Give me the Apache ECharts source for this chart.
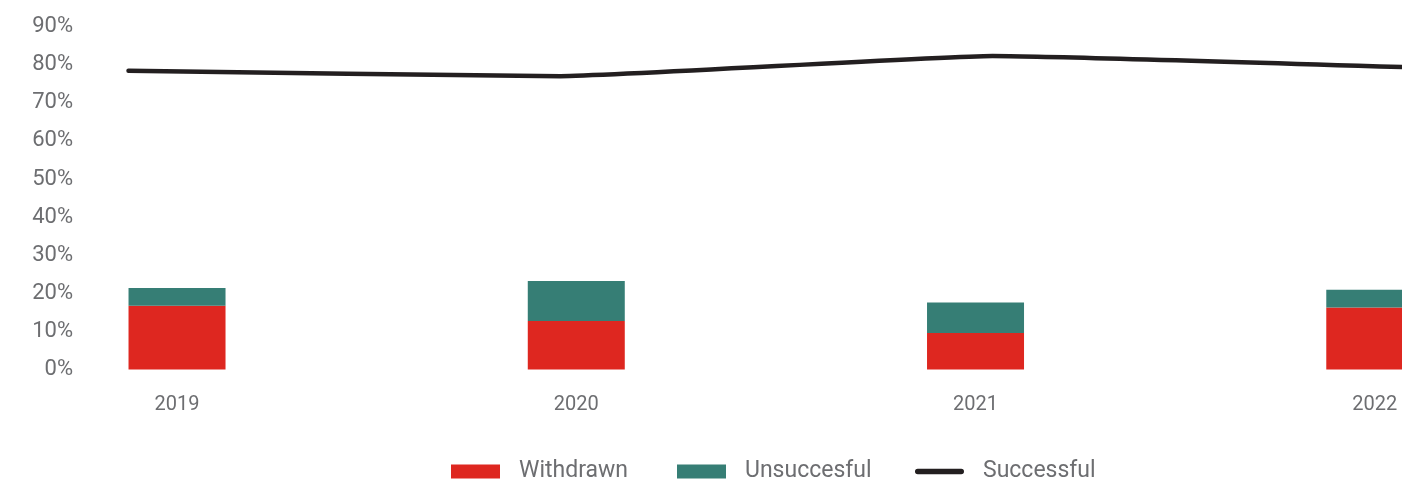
<!DOCTYPE html>
<html>
<head>
<meta charset="utf-8">
<style>
html,body{margin:0;padding:0;background:#fff;}
#chart{width:1402px;height:480px;}
</style>
<script src="https://cdn.jsdelivr.net/npm/echarts@6/dist/echarts.min.js"></script>
</head>
<body>
<div id="chart"></div>
<script>
const years = ['2019', '2020', '2021', '2022'];
const withdrawn = [16.7, 12.7, 9.6, 16.3];
const unsuccessful = [4.7, 10.5, 8.0, 4.6];
const successful = [78.4, 77.0, 82.3, 79.2];
const yTicks = [0, 10, 20, 30, 40, 50, 60, 70, 80, 90];

const RED = '#de2720';
const TEAL = '#367e75';
const DARK = '#231f20';
const GREY = '#6d6e71';
const FONT = 'Roboto';

const chart = echarts.init(document.getElementById('chart'), null, {renderer: 'canvas'});

const commonY = {
  type: 'value', min: yTicks[0], max: yTicks[yTicks.length - 1], interval: 10,
  splitLine: {show: false}, axisLine: {show: false}, axisTick: {show: false}
};

const legendBase = {
  top: 460, itemWidth: 49, itemHeight: 14, padding: 0,
  formatter: name => '{g|}' + '{t|' + name + '}',
  textStyle: {color: GREY, fontSize: 23, fontFamily: FONT,
    rich: {g: {width: 14}, t: {color: GREY, fontSize: 23, fontFamily: FONT}}},
  selectedMode: false
};

chart.setOption({
  animation: false,
  backgroundColor: '#fff',
  grid: [
    {left: -22.6, width: 1597, top: 26.6, bottom: 110.5, outerBoundsMode: 'none'},
    {left: 128.5, width: 1296, top: 26.6, bottom: 110.5, outerBoundsMode: 'none'}
  ],
  xAxis: [
    {type: 'category', gridIndex: 0, data: years, boundaryGap: true,
     axisLine: {show: false}, axisTick: {show: false},
     axisLabel: {color: GREY, fontSize: 20, fontFamily: FONT, margin: 25}},
    {type: 'category', gridIndex: 1, data: years, boundaryGap: false, show: false}
  ],
  yAxis: [
    Object.assign({gridIndex: 0, axisLabel: {show: false}}, commonY),
    Object.assign({gridIndex: 1, axisLabel: {color: GREY, fontSize: 22, fontFamily: FONT, margin: 55.5,
      formatter: v => v + '%'}}, commonY)
  ],
  legend: [
    Object.assign({left: 451, data: [{name: 'Withdrawn', icon: 'rect'}]}, legendBase),
    Object.assign({left: 677, data: [{name: 'Unsuccesful', icon: 'rect'}]}, legendBase),
    Object.assign({left: 915, data: [{name: 'Successful',
      icon: 'path://M3,0 L50,0 A3,3 0 0 1 50,6 L3,6 A3,3 0 0 1 3,0 Z',
      itemStyle: {color: DARK}}]}, legendBase)
  ],
  series: [
    {name: 'Withdrawn', type: 'bar', stack: 'a', xAxisIndex: 0, yAxisIndex: 0,
     barWidth: 97, data: withdrawn, itemStyle: {color: RED}},
    {name: 'Unsuccesful', type: 'bar', stack: 'a', xAxisIndex: 0, yAxisIndex: 0,
     barWidth: 97, data: unsuccessful, itemStyle: {color: TEAL}},
    {name: 'Successful', type: 'line', xAxisIndex: 1, yAxisIndex: 1,
     data: successful, symbol: 'none', smooth: 0.12, clip: false,
     lineStyle: {color: DARK, width: 4.5, cap: 'round', join: 'round'},
     itemStyle: {color: DARK}}
  ]
});
</script>
</body>
</html>
